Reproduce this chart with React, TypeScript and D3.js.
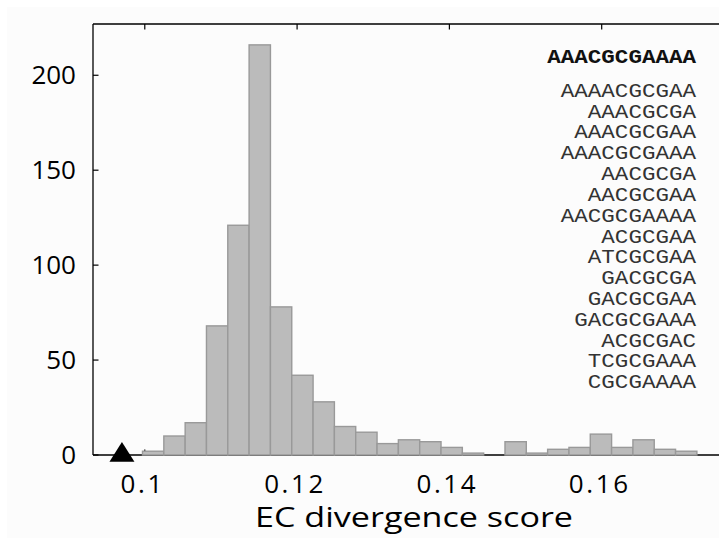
import React from "react";
import * as d3 from "d3";

// Histogram of EC divergence scores
const counts = [2, 10, 17, 68, 121, 216, 78, 42, 28, 15, 12, 6, 8, 7, 4, 1, 0, 7, 1, 3, 4, 11, 4, 8, 3, 2];
const binStart = 0.0997;
const binWidth = 0.0028;
const xTicks = [0.1, 0.12, 0.14, 0.16];
const xTickLabels = ["0.1", "0.12", "0.14", "0.16"];
const yTicks = [0, 50, 100, 150, 200];
const observedScore = 0.097;
const querySeq = "AAACGCGAAAA";
const similarSeqs = [
  "AAAACGCGAA",
  "AAACGCGA",
  "AAACGCGAA",
  "AAACGCGAAA",
  "AACGCGA",
  "AACGCGAA",
  "AACGCGAAAA",
  "ACGCGAA",
  "ATCGCGAA",
  "GACGCGA",
  "GACGCGAA",
  "GACGCGAAA",
  "ACGCGAC",
  "TCGCGAAA",
  "CGCGAAAA",
];

export default function App() {
  const W = 719;
  const H = 538;
  const left = 93;
  const top = 24;
  const bottom = 455;
  const right = 754;
  const x = d3.scaleLinear().domain([0.0932, 0.18]).range([left, right]);
  const y = d3.scaleLinear().domain([0, 227]).range([bottom, top]);
  const tickLen = 5.5;
  const sans = "'Open Sans', sans-serif";
  const mono = "'Liberation Mono', 'Courier New', monospace";
  const seqRight = 696;
  const seqScale = 1.1;

  const bins = counts.map((c, i) => ({
    x0: binStart + i * binWidth,
    x1: binStart + (i + 1) * binWidth,
    c,
  }));

  const cx = x(observedScore);
  const cy = y(0);

  return (
    <svg
      width={W}
      height={H}
      style={{ position: "absolute", left: 0, top: 0, background: "#ffffff" }}
    >
      <rect x={7} y={7} width={W - 7} height={H - 7} fill="#fcfcfc" />

      {/* ticks (drawn under the bars) */}
      {yTicks.map((t) => (
        <line key={"yl" + t} x1={left} x2={left + tickLen} y1={y(t)} y2={y(t)} stroke="#000" strokeWidth={1.2} />
      ))}
      {xTicks.map((t) => (
        <g key={"xt" + t}>
          <line x1={x(t)} x2={x(t)} y1={top} y2={top + tickLen} stroke="#000" strokeWidth={1.2} />
          <line x1={x(t)} x2={x(t)} y1={bottom} y2={bottom - tickLen} stroke="#000" strokeWidth={1.2} />
        </g>
      ))}

      {/* axes box */}
      <line x1={left} x2={right} y1={top} y2={top} stroke="#000" strokeWidth={1.3} />
      <line x1={left} x2={right} y1={bottom} y2={bottom} stroke="#000" strokeWidth={1.3} />
      <line x1={left} x2={left} y1={top} y2={bottom} stroke="#000" strokeWidth={1.3} />

      {/* bars */}
      {bins.map((b, i) => (
        <rect
          key={"b" + i}
          x={x(b.x0)}
          y={y(b.c)}
          width={x(b.x1) - x(b.x0)}
          height={y(0) - y(b.c)}
          fill="#bbbbbb"
          stroke="#999999"
          strokeWidth={1.4}
        />
      ))}

      {/* observed score marker */}
      <path
        d={`M${cx},${cy - 13} L${cx + 12.5},${cy + 6.8} L${cx - 12.5},${cy + 6.8} Z`}
        fill="#000"
      />

      {/* tick labels */}
      {yTicks.map((t) => (
        <text
          key={"ylab" + t}
          x={left - 17}
          y={y(t)}
          dy="0.35em"
          textAnchor="end"
          fontFamily={sans}
          fontSize={26}
          fill="#000"
        >
          {t}
        </text>
      ))}
      {xTicks.map((t, i) => (
        <text
          key={"xlab" + t}
          x={x(t) - 2}
          y={bottom + 37.5}
          textAnchor="middle"
          fontFamily={sans}
          fontSize={26}
          letterSpacing={2.6}
          fill="#000"
        >
          {xTickLabels[i]}
        </text>
      ))}
      <text
        x={255}
        y={527}
        fontFamily={sans}
        fontSize={28}
        textLength={318}
        lengthAdjust="spacingAndGlyphs"
        fill="#000"
      >
        EC divergence score
      </text>

      {/* sequence list */}
      <g transform={`translate(${seqRight},0) scale(${seqScale},1)`}>
        <text x={0} y={63.3} textAnchor="end" fontFamily={mono} fontSize={20.5} fontWeight="bold" fill="#111">
          {querySeq}
        </text>
        {similarSeqs.map((s, i) => (
          <text
            key={"s" + i}
            x={0}
            y={96.7 + i * 20.83}
            textAnchor="end"
            fontFamily={mono}
            fontSize={20.5}
            fill="#333"
          >
            {s}
          </text>
        ))}
      </g>
    </svg>
  );
}
